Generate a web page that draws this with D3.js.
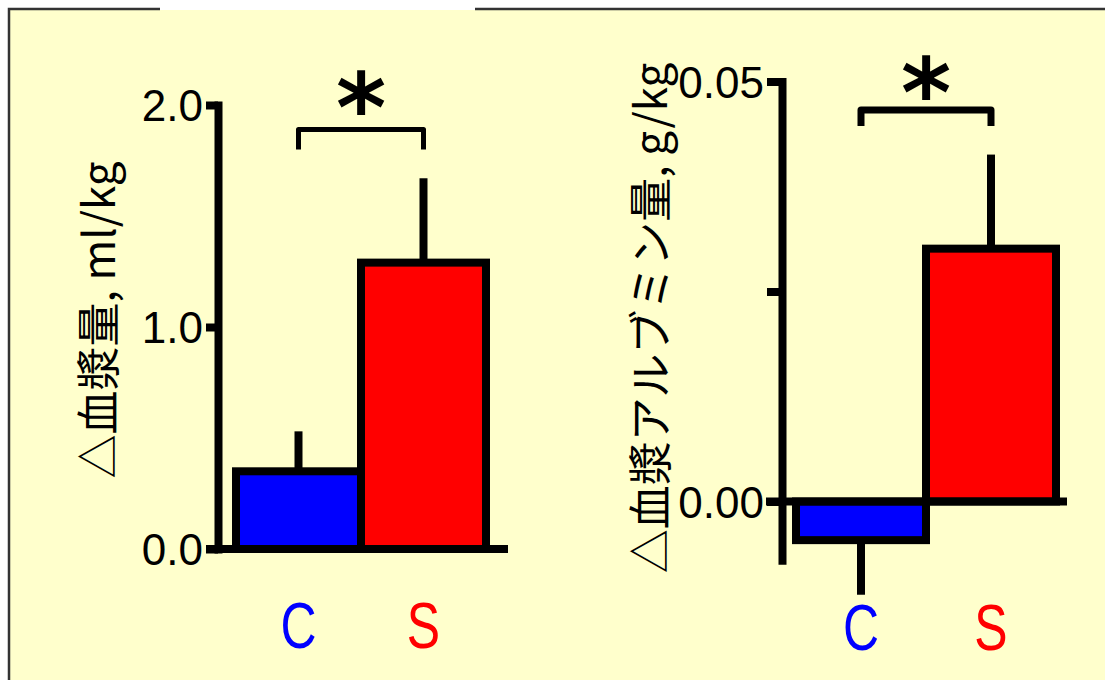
<!DOCTYPE html>
<html>
<head>
<meta charset="utf-8">
<script src="https://cdn.jsdelivr.net/npm/d3@7/dist/d3.min.js"></script>
<style>
  body { margin: 0; background: #fff; }
  svg { display: block; }
  .tick text { font-family: "Liberation Sans", Arial, sans-serif; }
</style>
</head>
<body>
<div id="chart"></div>
<script>
var width = 1105;
var height = 680;

// data
var groups = ["C", "S"];
var groupColors = ["#0000ff", "#ff0000"];

var plasmaVol = [0.35, 1.29];        // ml/kg
var plasmaVolErr = [0.18, 0.38];
var plasmaTicks = [0, 1, 2];
var plasmaTickLabels = ["0.0", "1.0", "2.0"];
var plasmaLabel = "△血漿量, ml/kg";

var albumin = [-0.0046, 0.0301];     // g/kg
var albuminErr = [0.0065, 0.0112];
var albuminTicks = [0, 0.025, 0.05];
var albuminTickLabels = ["0.00", "", "0.05"];
var albuminLabel = "△血漿アルブミン量, g/kg";

window.onload = start;

function start() {
	var svg = d3.select("#chart").append("svg")
		.attr("width", width)
		.attr("height", height);

	// panel background and frame
	svg.append("rect").attr("x", 0).attr("y", 0).attr("width", width).attr("height", height).attr("fill", "#fff");
	svg.append("rect").attr("x", 9).attr("y", 10).attr("width", width - 9).attr("height", height - 10).attr("fill", "#ffffcc");
	svg.append("path")
		.attr("d", "M9,680 L9,9 L160,9 M475,9 L1105,9")
		.attr("fill", "none")
		.attr("stroke", "#333")
		.attr("stroke-width", 2.5);

	drawPanel(svg, {
		values: plasmaVol, errs: plasmaVolErr,
		ticks: plasmaTicks, tickLabels: plasmaTickLabels,
		label: plasmaLabel,
		domain: [0, 2], yRange: [549, 105],
		xRange: [236, 486], axisX: 218, tickLen: 12,
		baseX: [206, 508],
		sig: [1.89, 1.80], sigWidth: 5, starY: 114,
		labelX: 100, labelY: 320,
		catY: 648
	});

	drawPanel(svg, {
		values: albumin, errs: albuminErr,
		ticks: albuminTicks, tickLabels: albuminTickLabels,
		label: albuminLabel,
		domain: [-0.007, 0.05], yRange: [560.3, 81.5],
		xRange: [796, 1056], axisX: 782, tickLen: 15,
		baseX: [766, 1067],
		sig: [0.0466, 0.0447], sigWidth: 7, starY: 99,
		labelX: 652, labelY: 318,
		catY: 650
	});
}

function drawPanel(svg, o) {
	var y = d3.scaleLinear().domain(o.domain).range(o.yRange);
	var x = d3.scaleBand().domain(groups).range(o.xRange).paddingInner(0);
	var bw = x.bandwidth();

	// y axis
	var yAxis = d3.axisLeft(y)
		.tickValues(o.ticks)
		.tickSize(o.tickLen)
		.tickSizeOuter(0)
		.tickPadding(3)
		.tickFormat(function(d, i) { return o.tickLabels[i]; });

	var g = svg.append("g")
		.attr("transform", "translate(" + o.axisX + ",0)")
		.call(yAxis);
	g.select(".domain")
		.attr("stroke", "#000")
		.attr("stroke-width", 8)
		.attr("stroke-linecap", "square");
	g.selectAll(".tick line")
		.attr("stroke", "#000")
		.attr("stroke-width", 8);
	g.selectAll(".tick text")
		.attr("fill", "#000")
		.attr("dy", "0.36em")
		.style("font-size", "44px");

	// error bars (drawn under the bars)
	svg.selectAll(null)
		.data(groups)
		.enter()
		.append("line")
		.attr("x1", function(d) { return x(d) + bw / 2; })
		.attr("x2", function(d) { return x(d) + bw / 2; })
		.attr("y1", function(d, i) { return y(o.values[i]); })
		.attr("y2", function(d, i) {
			var v = o.values[i];
			return y(v + (v < 0 ? -o.errs[i] : o.errs[i]));
		})
		.attr("stroke", "#000")
		.attr("stroke-width", 8);

	// bars
	svg.selectAll(null)
		.data(groups)
		.enter()
		.append("rect")
		.attr("x", function(d) { return x(d); })
		.attr("width", bw)
		.attr("y", function(d, i) { return Math.min(y(0), y(o.values[i])); })
		.attr("height", function(d, i) { return Math.abs(y(o.values[i]) - y(0)); })
		.attr("fill", function(d, i) { return groupColors[i]; })
		.attr("stroke", "#000")
		.attr("stroke-width", 8);

	// baseline
	svg.append("line")
		.attr("x1", o.baseX[0]).attr("x2", o.baseX[1])
		.attr("y1", y(0)).attr("y2", y(0))
		.attr("stroke", "#000")
		.attr("stroke-width", 8);

	// significance bracket
	var c0 = x(groups[0]) + bw / 2;
	var c1 = x(groups[1]) + bw / 2;
	svg.append("path")
		.attr("d", "M" + c0 + "," + y(o.sig[1]) + " L" + c0 + "," + y(o.sig[0]) +
			" L" + c1 + "," + y(o.sig[0]) + " L" + c1 + "," + y(o.sig[1]))
		.attr("fill", "none")
		.attr("stroke", "#000")
		.attr("stroke-width", o.sigWidth)
		.attr("stroke-linejoin", "round");
	svg.append("text")
		.attr("x", (c0 + c1) / 2)
		.attr("y", o.starY + 28)
		.attr("text-anchor", "middle")
		.style("font-family", "'DejaVu Sans', sans-serif")
		.style("font-weight", "bold")
		.style("font-size", "96px")
		.text("*");

	// y label
	svg.append("text")
		.attr("transform", "translate(" + o.labelX + "," + o.labelY + ") rotate(-90)")
		.attr("text-anchor", "middle")
		.attr("dy", "0.35em")
		.style("font-family", "'Noto Sans CJK JP', sans-serif")
		.style("font-size", "44px")
		.text(o.label);

	// category labels (narrow lettering)
	svg.selectAll(null)
		.data(groups)
		.enter()
		.append("text")
		.attr("transform", function(d) {
			return "translate(" + (x(d) + bw / 2) + "," + o.catY + ") scale(0.78,1)";
		})
		.attr("text-anchor", "middle")
		.attr("fill", function(d, i) { return groupColors[i]; })
		.style("font-family", "'Liberation Sans', sans-serif")
		.style("font-size", "64px")
		.text(function(d) { return d; });
}
</script>
</body>
</html>
